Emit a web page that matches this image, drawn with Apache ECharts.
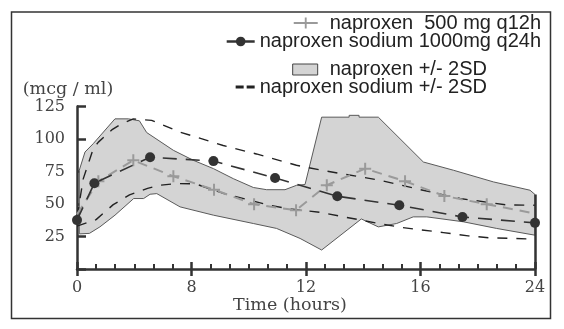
<!DOCTYPE html>
<html>
<head>
<meta charset="utf-8">
<script src="https://cdn.jsdelivr.net/npm/echarts@6/dist/echarts.min.js"></script>
<style>
html,body{margin:0;padding:0;background:#fff;}
#chart{width:564px;height:329px;}
</style>
</head>
<body>
<div id="chart"></div>
<script>
// The time axis of the original figure is evenly spaced: its major ticks sit at
// positions 0, 6, 12, 18, 24 (one minor tick per position unit) and are labelled as below.
const xTickLabels = ['0', '8', '12', '16', '24'];
const yTickValues = [25, 50, 75, 100, 125];

// naproxen 500 mg q12h (mean), x in axis position units, y in mcg/ml
const naproxenX = [0, 1.12, 2.95, 5.05, 7.18, 9.28, 11.48, 13.09, 15.1, 17.19, 19.25, 21.47, 24];
const naproxenY = [42, 67.5, 83.6, 71.3, 61, 49.8, 45.2, 64.4, 77.2, 67.5, 56.2, 49.8, 42.7];

// naproxen sodium 1000mg q24h (mean)
const sodiumX = [0, 0.91, 3.83, 7.15, 10.38, 13.64, 16.89, 20.2, 24];
const sodiumY = [37.6, 66, 86, 83, 70, 56, 49, 40, 35.5];

// naproxen +/- 2SD band
const bandUpperX = [0.12, 0.42, 0.85, 1.99, 2.69, 3.27, 3.65, 5.05, 6.1, 7.15, 8.19, 9.24, 9.94, 10.9, 11.51, 11.95, 12.82, 14.26, 14.26, 14.78, 14.78, 15.79, 18.15, 19.72, 21.82, 23.74, 24];
const bandUpperY = [76, 90, 96.4, 115.5, 115.5, 114, 105, 91.3, 83.6, 77.2, 69.5, 62.7, 61, 61, 64.4, 65, 116.8, 116.8, 118.2, 118.2, 116.8, 116.8, 82.3, 76, 67, 60.6, 57.3];
const bandLowerX = [0.12, 0.65, 1.2, 1.99, 2.97, 3.49, 3.83, 4.18, 5.4, 7.15, 9.24, 10.46, 11.69, 12.82, 14.9, 15.79, 16.75, 17.62, 18.33, 20.25, 21.99, 24];
const bandLowerY = [27, 27.4, 32.4, 41.4, 54.2, 54.2, 57.5, 58, 47.8, 41.4, 35, 31.2, 23.5, 14.6, 38.5, 32.4, 35, 40.1, 40.1, 36.3, 31.2, 26];

// naproxen sodium +/- 2SD
const sodiumUpperX = [0, 0.33, 0.85, 1.12, 1.82, 2.25, 2.95, 3.91, 5.4, 7.66, 9.4, 11.5, 12.8, 15.87, 18.0, 20.07, 22.52, 24];
const sodiumUpperY = [40, 69.5, 92.5, 97.6, 107, 111, 115.5, 114.3, 105.3, 95, 88.5, 79.8, 76, 68.3, 61, 54.2, 49.3, 49];
const sodiumLowerX = [0, 1.0, 1.9, 2.75, 3.7, 4.3, 5.2, 6.2, 7.6, 9.97, 11.0, 11.9, 12.8, 14.0, 15.0, 16.0, 17.0, 19.2, 20.5, 21.6, 24];
const sodiumLowerY = [33, 38, 49.5, 57, 62, 64.4, 65.7, 65.5, 58.5, 49.5, 46.5, 45, 43.5, 40, 37.3, 34.5, 32, 28, 25.5, 24, 23];

// right-hand edge line at the last time point
const edgeX = 24;
const edgeY = [0, 57.3];

const NAME_NAP = 'naproxen  500 mg q12h';
const NAME_SOD = 'naproxen sodium 1000mg q24h';
const NAME_BAND = 'naproxen +/- 2SD';
const NAME_SODSD = 'naproxen sodium +/- 2SD';

const zip = (xs, ys) => xs.map((x, i) => [x, ys[i]]);
const PLUS = 'path://M5,0H7V5H12V7H7V12H5V7H0V5H5Z';
const DASHES = 'path://M0,0H8V3H0ZM11,0H19V3H11Z';
const SERIF = 'DejaVu Serif';
const SANS = 'Liberation Sans';
const AX = '#333';

const bandUpper = zip(bandUpperX, bandUpperY);
const bandLower = zip(bandLowerX, bandLowerY);

const napData = zip(naproxenX, naproxenY).map((p, i, a) =>
  (i === 0 || i === a.length - 1) ? { value: p, symbol: 'none' } : p);

const chart = echarts.init(document.getElementById('chart'), null, { renderer: 'canvas' });

const legendText = { fontFamily: SANS, fontSize: 20, color: '#222', lineHeight: 20 };

function legendBox(right, top, extra) {
  return Object.assign({
    right: right, top: top,
    padding: 0,
    selectedMode: false,
    textStyle: legendText
  }, extra);
}

const option = {
  backgroundColor: '#fff',
  animation: false,
  grid: { left: 77, right: 29, top: 106.5, bottom: 60, containLabel: false },
  graphic: [{
    type: 'rect', silent: true, z: 0,
    shape: { x: 11.5, y: 12, width: 539, height: 306.5 },
    style: { fill: 'none', stroke: '#333', lineWidth: 1.5 }
  }],
  legend: [
    legendBox(23, 13, {
      itemWidth: 24, itemHeight: 14,
      data: [{ name: NAME_NAP, lineStyle: { type: 'solid', width: 2, color: '#9a9a9a' } }],
      textStyle: Object.assign({}, legendText, { padding: [0, 0, 0, 7] })
    }),
    legendBox(23, 31.5, {
      itemWidth: 28, itemHeight: 12,
      data: [{ name: NAME_SOD, lineStyle: { type: 'solid', width: 2.5, color: '#333' } }]
    }),
    legendBox(77, 59.5, {
      itemWidth: 25, itemHeight: 11,
      data: [{ name: NAME_BAND, icon: 'rect', itemStyle: { color: '#d4d4d4', borderColor: '#444', borderWidth: 1 } }],
      textStyle: Object.assign({}, legendText, { padding: [0, 0, 0, 7] })
    }),
    legendBox(77, 77, {
      itemWidth: 19, itemHeight: 3,
      data: [{ name: NAME_SODSD, icon: DASHES, itemStyle: { color: '#222' } }]
    })
  ],
  xAxis: [{
    type: 'value', min: 0, max: 24, interval: 6,
    axisLine: { show: true, lineStyle: { color: AX, width: 2.5 } },
    axisTick: { show: true, inside: true, length: 7, lineStyle: { color: AX, width: 2.5 } },
    minorTick: { show: true, splitNumber: 6, length: 5, lineStyle: { color: AX, width: 2 } },
    splitLine: { show: false },
    axisLabel: {
      formatter: v => xTickLabels[Math.round(v / 6)],
      margin: 11, fontFamily: SERIF, fontSize: 16, color: '#444'
    },
    name: 'Time (hours)', nameLocation: 'middle', nameGap: 26,
    nameTextStyle: { fontFamily: SERIF, fontSize: 17.5, color: '#444', padding: [0, 32, 0, 0] }
  }, {
    type: 'value', min: 0, max: 24, interval: 6, position: 'bottom',
    axisLine: { show: false },
    axisTick: { show: true, inside: false, length: 7, lineStyle: { color: AX, width: 2.5 } },
    axisLabel: { show: false },
    splitLine: { show: false }
  }],
  yAxis: {
    type: 'value', min: 0, max: 125, interval: 25,
    axisLine: { show: true, lineStyle: { color: AX, width: 2.5 } },
    axisTick: { show: true, inside: true, length: 9, lineStyle: { color: AX, width: 2.5 } },
    splitLine: { show: false },
    axisLabel: {
      formatter: v => (yTickValues.indexOf(v) >= 0 ? String(v) : ''),
      margin: 12, fontFamily: SERIF, fontSize: 16, color: '#444'
    },
    name: '(mcg / ml)', nameLocation: 'end', nameGap: 7,
    nameTextStyle: { fontFamily: SERIF, fontSize: 17.5, color: '#444', padding: [0, 18, 0, 0] }
  },
  series: [
    {
      type: 'custom', name: NAME_BAND, coordinateSystem: 'cartesian2d',
      silent: true, z: 1,
      itemStyle: { color: '#d4d4d4' },
      data: [[0, 0]],
      renderItem: (params, api) => {
        const pts = bandUpper.map(p => api.coord(p))
          .concat(bandLower.slice().reverse().map(p => api.coord(p)));
        return {
          type: 'polygon',
          shape: { points: pts },
          style: { fill: '#d4d4d4', stroke: '#5a5a5a', lineWidth: 1 }
        };
      }
    },
    {
      type: 'line', name: NAME_SODSD, silent: true, z: 3,
      data: zip(sodiumUpperX, sodiumUpperY),
      symbol: 'none',
      lineStyle: { color: '#222', width: 1.4, type: [10, 9] },
      itemStyle: { color: '#222' },
      markLine: {
        silent: true, symbol: 'none', label: { show: false },
        lineStyle: { color: AX, width: 2.5, type: 'solid' },
        data: [[{ coord: [edgeX, edgeY[0]] }, { coord: [edgeX, edgeY[1]] }]]
      }
    },
    {
      type: 'line', name: NAME_SODSD, silent: true, z: 3,
      data: zip(sodiumLowerX, sodiumLowerY),
      symbol: 'none',
      lineStyle: { color: '#222', width: 1.4, type: [10, 9] },
      itemStyle: { color: '#222' }
    },
    {
      type: 'line', name: NAME_NAP, silent: true, z: 4,
      data: napData,
      symbol: PLUS, symbolSize: 12,
      lineStyle: { color: '#9a9a9a', width: 2, type: [10, 7] },
      itemStyle: { color: '#9a9a9a' }
    },
    {
      type: 'line', name: NAME_SOD, silent: true, z: 5,
      data: zip(sodiumX, sodiumY),
      symbol: 'circle', symbolSize: 10,
      lineStyle: { color: '#333', width: 1.6, type: [14, 9] },
      itemStyle: { color: '#333' }
    }
  ]
};
chart.setOption(option);
</script>
</body>
</html>
